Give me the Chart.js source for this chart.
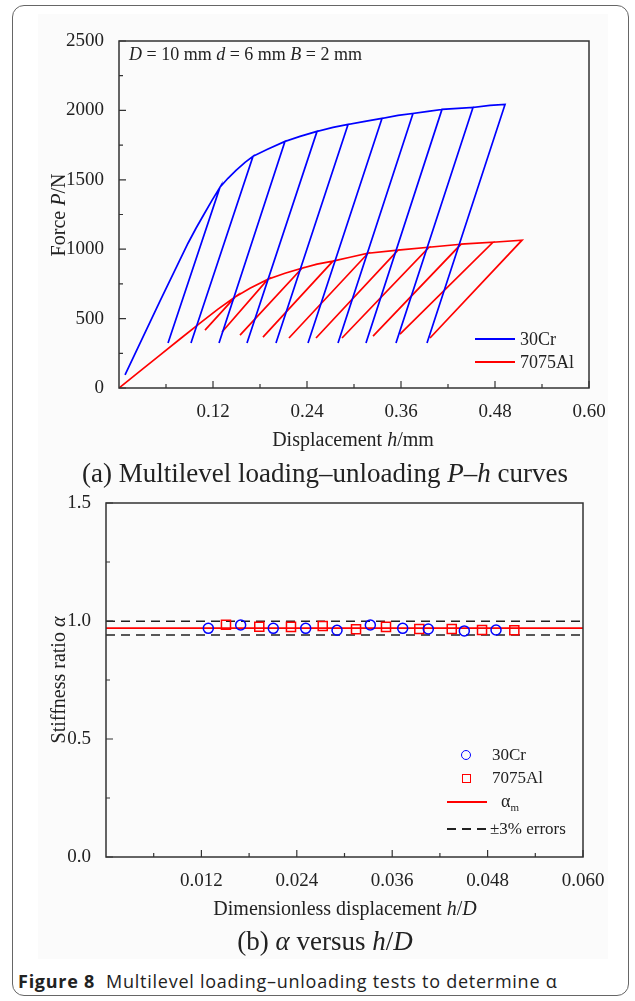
<!DOCTYPE html>
<html lang="en">
<head>
<meta charset="UTF-8">
<title>Figure 8</title>
<script src="https://cdn.jsdelivr.net/npm/chart.js"></script>
<style>
  body { margin: 0; background: #fff; }
  #page { position: relative; width: 635px; height: 1001px; overflow: hidden; font-family: "Liberation Serif", serif; color: #222; }
  .frame { position: absolute; left: 12px; top: 5px; width: 617px; height: 991px; border: 1.5px solid #666; border-radius: 12px; box-sizing: border-box; }
  .panel { position: absolute; left: 38px; top: 14px; width: 570px; height: 945px; background: #fbfbfb; }
  .holder { position: absolute; left: 0; width: 635px; }
  .t { position: absolute; white-space: nowrap; transform: translate(-50%, -50%); }
  .l { position: absolute; white-space: nowrap; transform: translateY(-50%); }
  .rot { transform: translate(-50%, -50%) rotate(-90deg); }
  .swatch { position: absolute; height: 2px; }
</style>
</head>
<body>
<div id="page">
  <div class="panel"></div>
  <div class="frame"></div>

  <div class="holder" style="top:0;height:460px"><canvas id="chartA" width="635" height="460"></canvas></div>
  <div class="holder" style="top:480px;height:440px"><canvas id="chartB" width="635" height="440"></canvas></div>

  <!-- chart (a) texts -->
  <div class="l" style="left:129px;top:54px;font-size:18px"><i>D</i> = 10 mm <i>d</i> = 6 mm <i>B</i> = 2 mm</div>
  <div class="t rot" style="left:58px;top:215px;font-size:20px">Force <i>P</i>/N</div>
  <div class="t" style="left:353px;top:439px;font-size:20px">Displacement <i>h</i>/mm</div>
  <div class="t" style="left:325px;top:473px;font-size:27px">(a) Multilevel loading–unloading <i>P</i>–<i>h</i> curves</div>
  <div class="swatch" style="left:475px;top:338px;width:40px;background:#0000ff"></div>
  <div class="l" style="left:520px;top:339px;font-size:18px">30Cr</div>
  <div class="swatch" style="left:475px;top:361px;width:40px;background:#ff0000"></div>
  <div class="l" style="left:520px;top:362px;font-size:18px">7075Al</div>

  <!-- chart (b) texts -->
  <div class="t rot" style="left:58px;top:680px;font-size:20px">Stiffness ratio <i>α</i></div>
  <div class="t" style="left:345px;top:908px;font-size:20px">Dimensionless displacement <i>h</i>/<i>D</i></div>
  <div class="t" style="left:325px;top:941px;font-size:27px">(b) <i>α</i> versus <i>h</i>/<i>D</i></div>
  <div style="position:absolute;left:461px;top:750px;width:10px;height:10px;border:1.5px solid #0000ff;border-radius:50%;box-sizing:border-box"></div>
  <div class="l" style="left:492px;top:755px;font-size:17px">30Cr</div>
  <div style="position:absolute;left:462px;top:774px;width:9px;height:9px;border:1.5px solid #ff0000;box-sizing:border-box"></div>
  <div class="l" style="left:492px;top:778px;font-size:17px">7075Al</div>
  <div class="swatch" style="left:447px;top:801px;width:40px;background:#ff0000"></div>
  <div class="l" style="left:501px;top:802px;font-size:18px">α<sub style="font-size:11px">m</sub></div>
  <div class="swatch" style="left:447px;top:828px;width:42px;background:repeating-linear-gradient(90deg,#222 0 9px,transparent 9px 15px)"></div>
  <div class="l" style="left:490px;top:829px;font-size:17px">±3% errors</div>

  <div class="l" style="left:18px;top:981px;font-size:18px;letter-spacing:0.75px;font-family:'Open Sans',sans-serif;color:#222"><b>Figure 8</b>&nbsp; Multilevel loading–unloading tests to determine α</div>
</div>

<script>
// ---- chart (a): force vs displacement, envelope points + unloading ends ----
// 30Cr envelope (h in mm, force in N)
const crEnvH = [0.0077, 0.0523, 0.0881, 0.0983, 0.1085, 0.1187, 0.1289, 0.1391, 0.1494, 0.1609, 0.1711, 0.1889, 0.2119, 0.2311, 0.2528, 0.2732, 0.2924, 0.3140, 0.3357, 0.3562, 0.3753, 0.3945, 0.4123, 0.4328, 0.4519, 0.4736, 0.4928];
const crEnvF = [94, 626, 1043, 1151, 1252, 1352, 1446, 1511, 1568, 1626, 1669, 1719, 1777, 1813, 1849, 1878, 1899, 1921, 1942, 1964, 1978, 1993, 2007, 2014, 2021, 2036, 2043];
const crPeakIdx = [6, 10, 12, 14, 16, 18, 20, 22, 24, 26];
const crUnloadH = [0.0626, 0.0919, 0.1277, 0.1634, 0.2004, 0.2413, 0.2796, 0.3153, 0.3536, 0.3932];
const crUnloadF = [324, 324, 324, 324, 324, 324, 324, 324, 324, 324];

// 7075Al envelope
const alEnvH = [0, 0.0268, 0.0523, 0.0779, 0.1034, 0.1264, 0.1481, 0.1672, 0.1902, 0.2119, 0.2336, 0.2528, 0.2732, 0.2949, 0.3179, 0.3562, 0.3957, 0.4366, 0.4774, 0.5145];
const alEnvF = [0, 122, 237, 353, 468, 568, 655, 719, 784, 827, 863, 892, 914, 942, 971, 993, 1014, 1036, 1050, 1065];
const alPeakIdx = [6, 8, 10, 12, 14, 15, 16, 17, 18, 19];
const alUnloadH = [0.1098, 0.1315, 0.1545, 0.1838, 0.2170, 0.2515, 0.2847, 0.3243, 0.3587, 0.3970];
const alUnloadF = [417, 403, 381, 367, 360, 360, 360, 374, 388, 360];

const forceTicks = [0, 500, 1000, 1500, 2000, 2500];
const forceMinor = [250, 750, 1250, 1750, 2250];
const dispTicks = [0.12, 0.24, 0.36, 0.48, 0.60];
const dispMinor = [0.06, 0.18, 0.30, 0.42, 0.54];

// ---- chart (b): stiffness ratio vs h/D ----
const crHD = [0.01287, 0.01694, 0.02104, 0.02512, 0.02906, 0.03325, 0.03732, 0.04054, 0.04507, 0.04906];
const crAlpha = [0.969, 0.983, 0.969, 0.969, 0.961, 0.983, 0.969, 0.966, 0.958, 0.962];
const alHD = [0.01509, 0.01928, 0.02327, 0.02726, 0.03145, 0.03522, 0.03941, 0.04349, 0.04730, 0.05136];
const alAlpha = [0.984, 0.976, 0.975, 0.979, 0.965, 0.975, 0.966, 0.966, 0.962, 0.961];
const alphaMean = 0.970;
const alphaUpper = 0.999;
const alphaLower = 0.941;

const alphaTicks = [0, 0.5, 1.0, 1.5];
const alphaMinor = [0.25, 0.75, 1.25];
const hdTicks = [0.012, 0.024, 0.036, 0.048, 0.060];
const hdMinor = [0.006, 0.018, 0.030, 0.042, 0.054];

// walk the envelope, at each peak go down to the unloading end and back up
function cyclePath(envH, envF, peaks, unH, unF) {
  const pts = [];
  for (let i = 0; i < envH.length; i++) {
    pts.push({ x: envH[i], y: envF[i] });
    const k = peaks.indexOf(i);
    if (k >= 0) {
      pts.push({ x: unH[k], y: unF[k] });
      if (i < envH.length - 1) pts.push({ x: envH[i], y: envF[i] });
    }
  }
  return pts;
}

function pairs(xs, ys) {
  return xs.map((v, i) => ({ x: v, y: ys[i] }));
}

// box round the plot and inward ticks
const frameTicks = {
  id: 'frameTicks',
  afterDraw(chart, args, o) {
    const ctx = chart.ctx, a = chart.chartArea, x = chart.scales.x, y = chart.scales.y;
    ctx.save();
    ctx.strokeStyle = '#333';
    ctx.lineWidth = 1.2;
    ctx.beginPath();
    o.xMajor.forEach(v => { const p = x.getPixelForValue(v); ctx.moveTo(p, a.bottom); ctx.lineTo(p, a.bottom - 7); });
    o.xMinor.forEach(v => { const p = x.getPixelForValue(v); ctx.moveTo(p, a.bottom); ctx.lineTo(p, a.bottom - 4); });
    o.yMajor.forEach(v => { const p = y.getPixelForValue(v); ctx.moveTo(a.left, p); ctx.lineTo(a.left + 7, p); });
    o.yMinor.forEach(v => { const p = y.getPixelForValue(v); ctx.moveTo(a.left, p); ctx.lineTo(a.left + 4, p); });
    ctx.stroke();
    ctx.lineWidth = 1.5;
    ctx.strokeRect(a.left, a.top, a.right - a.left, a.bottom - a.top);
    ctx.restore();
  }
};

Chart.defaults.font.family = '"Liberation Serif", serif';
Chart.defaults.font.size = 19;
Chart.defaults.color = '#222';

function axis(min, max, list, fmt, pad, size) {
  return {
    type: 'linear', min: min, max: max,
    grid: { display: false }, border: { display: false },
    ticks: { padding: pad, autoSkip: false, maxRotation: 0, callback: fmt },
    afterBuildTicks: s => { s.ticks = list.map(v => ({ value: v })); },
    afterFit: s => { if (s.isHorizontal()) s.height = size; else s.width = size; }
  };
}

new Chart(document.getElementById('chartA'), {
  type: 'scatter',
  data: {
    datasets: [
      { label: '30Cr', data: cyclePath(crEnvH, crEnvF, crPeakIdx, crUnloadH, crUnloadF), showLine: true, borderColor: '#0000ff', borderWidth: 1.7, pointRadius: 0, tension: 0 },
      { label: '7075Al', data: cyclePath(alEnvH, alEnvF, alPeakIdx, alUnloadH, alUnloadF), showLine: true, borderColor: '#ff0000', borderWidth: 1.7, pointRadius: 0, tension: 0 }
    ]
  },
  options: {
    responsive: false, animation: false, devicePixelRatio: 1,
    layout: { autoPadding: false, padding: { top: 41, right: 46, left: 0, bottom: 0 } },
    plugins: {
      legend: { display: false }, tooltip: { enabled: false },
      frameTicks: { xMajor: dispTicks, xMinor: dispMinor, yMajor: forceTicks, yMinor: forceMinor }
    },
    scales: {
      x: axis(0, 0.6, dispTicks, v => v.toFixed(2), 5, 72),
      y: axis(0, 2500, forceTicks, v => String(v), 7, 119)
    }
  },
  plugins: [frameTicks]
});

new Chart(document.getElementById('chartB'), {
  type: 'scatter',
  data: {
    datasets: [
      { label: '30Cr', data: pairs(crHD, crAlpha), pointStyle: 'circle', pointRadius: 5, borderColor: '#0000ff', backgroundColor: 'rgba(0,0,0,0)', borderWidth: 1.5 },
      { label: '7075Al', data: pairs(alHD, alAlpha), pointStyle: 'rect', pointRadius: 6.4, borderColor: '#ff0000', backgroundColor: 'rgba(0,0,0,0)', borderWidth: 1.5 },
      { label: 'αm', data: [{ x: 0, y: alphaMean }, { x: 0.06, y: alphaMean }], showLine: true, pointRadius: 0, borderColor: '#ff0000', borderWidth: 1.6 },
      { label: '+3%', data: [{ x: 0, y: alphaUpper }, { x: 0.06, y: alphaUpper }], showLine: true, pointRadius: 0, borderColor: '#222', borderWidth: 1.5, borderDash: [9, 6] },
      { label: '-3%', data: [{ x: 0, y: alphaLower }, { x: 0.06, y: alphaLower }], showLine: true, pointRadius: 0, borderColor: '#222', borderWidth: 1.5, borderDash: [9, 6] }
    ]
  },
  options: {
    responsive: false, animation: false, devicePixelRatio: 1,
    layout: { autoPadding: false, padding: { top: 23, right: 52, left: 0, bottom: 0 } },
    plugins: {
      legend: { display: false }, tooltip: { enabled: false },
      frameTicks: { xMajor: hdTicks, xMinor: hdMinor, yMajor: alphaTicks, yMinor: alphaMinor }
    },
    scales: {
      x: axis(0, 0.06, hdTicks, v => v.toFixed(3), 5, 63),
      y: axis(0, 1.5, alphaTicks, v => v.toFixed(1), 7, 106)
    }
  },
  plugins: [frameTicks]
});
</script>
</body>
</html>
